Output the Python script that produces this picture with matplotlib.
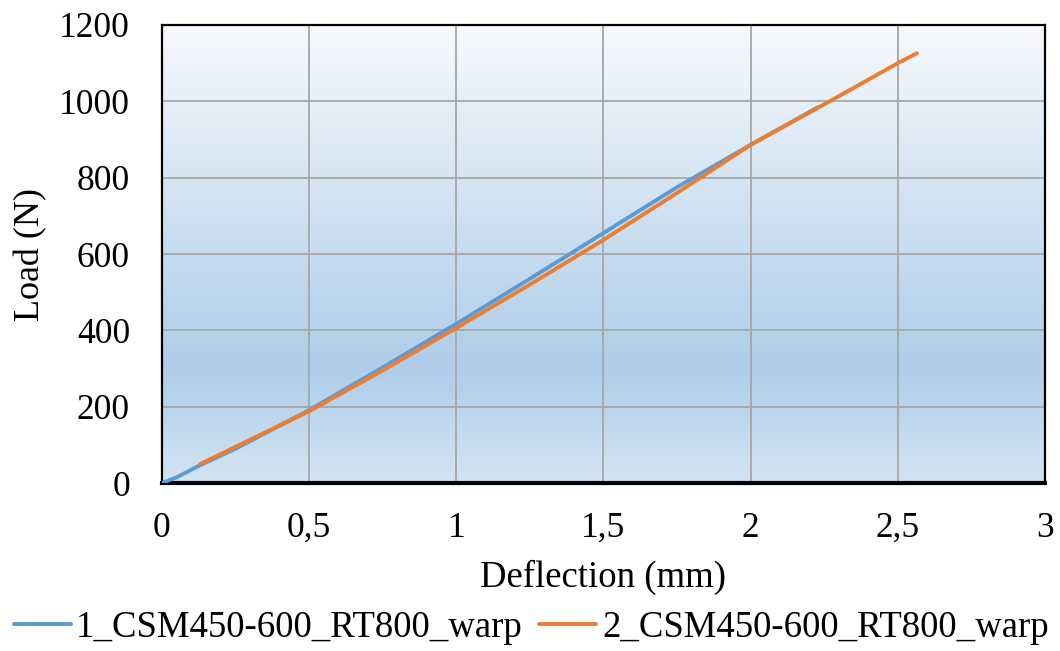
import numpy as np
import matplotlib
matplotlib.use("Agg")
import matplotlib.pyplot as plt
from matplotlib.colors import LinearSegmentedColormap

plt.rcParams['font.family'] = ['Liberation Serif', 'DejaVu Serif']

# Load-deflection readings for the two warp specimens
defl_1 = [0.0, 0.05, 0.13, 0.25, 0.5, 0.75, 1.0, 1.25, 1.5, 1.75, 2.0, 2.23]
load_1 = [0, 15, 47, 90, 191, 303, 417, 535, 655, 775, 886, 985]

defl_2 = [0.13, 0.25, 0.5, 0.75, 1.0, 1.25, 1.5, 1.75, 2.0, 2.28, 2.5, 2.565]
load_2 = [50, 95, 188, 295, 406, 520, 637, 760, 886, 1005, 1100, 1126]

labels = ["1_CSM450-600_RT800_warp", "2_CSM450-600_RT800_warp"]
x_ticks = [0, 0.5, 1, 1.5, 2, 2.5, 3]
x_tick_labels = ["0", "0,5", "1", "1,5", "2", "2,5", "3"]
y_ticks = [0, 200, 400, 600, 800, 1000, 1200]

fig = plt.figure(figsize=(10.6, 6.51), dpi=100)
ax = fig.add_axes([0.1528, 0.258, 0.8330, 0.7036])

# vertical gradient fill of the plotting area
cmap = LinearSegmentedColormap.from_list(
    "bg", [(0.0, "#d3e4f3"), (0.25, "#afcde9"), (1.0, "#f6f9fd")])
grad = np.linspace(0, 1, 256).reshape(-1, 1)
ax.imshow(grad, cmap=cmap, origin="lower", aspect="auto",
          extent=[0, 3, 0, 1200], zorder=0, interpolation="bicubic")

ax.plot(defl_1, load_1, color="#5b9bd5", lw=2.8, label=labels[0],
        solid_capstyle="round", zorder=3)
ax.plot(defl_2, load_2, color="#ed7d31", lw=2.8, label=labels[1],
        solid_capstyle="round", zorder=4)

ax.set_xlim(0, 3)
ax.set_ylim(0, 1200)
ax.set_xticks(x_ticks)
ax.set_xticklabels(x_tick_labels)
ax.set_yticks(y_ticks)
ax.grid(True, color="#a6a6a6", lw=1.3, zorder=1)
ax.tick_params(length=0, labelsize=25.5, colors="black")
ax.tick_params(axis="y", pad=23)
ax.tick_params(axis="x", pad=21)

for side in ("left", "top", "right"):
    ax.spines[side].set_linewidth(1.6)
ax.spines["bottom"].set_linewidth(3)

ax.set_xlabel("Deflection (mm)", fontsize=26.5)
ax.set_ylabel("Load (N)", fontsize=26)
ax.xaxis.set_label_coords(0.5, -0.168)
ax.yaxis.set_label_coords(-0.130, 0.5)

fig.legend(loc="center", bbox_to_anchor=(0.501, 0.036), ncol=2,
           fontsize=26.5, frameon=False, handlelength=1.55,
           handletextpad=0.15, columnspacing=0.45, borderaxespad=0)

fig.savefig("out.png", dpi=100)
